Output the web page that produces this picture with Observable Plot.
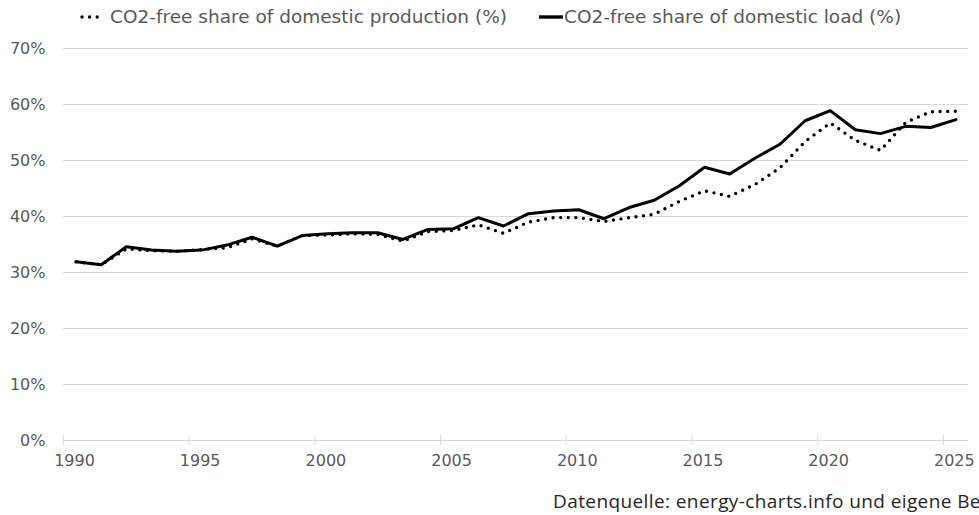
<!DOCTYPE html>
<html>
<head>
<meta charset="utf-8">
<script src="https://cdn.jsdelivr.net/npm/d3@7"></script>
<script src="https://cdn.jsdelivr.net/npm/@observablehq/plot@0.6"></script>
<style>
  html, body { margin: 0; padding: 0; background: #fff; }
  body { width: 979px; height: 515px; overflow: hidden; position: relative; }
  #legend { position: absolute; left: 0; top: 0; width: 979px; height: 36px; font-family: "DejaVu Sans", sans-serif; font-size: 18.5px; color: #595959; }
  #legend .item { position: absolute; top: 6px; display: flex; align-items: center; white-space: nowrap; }
  #chart { position: absolute; left: 0; top: 36px; }
  #caption { position: absolute; left: 553px; top: 488px; font-family: "Open Sans", sans-serif; font-size: 19px; letter-spacing: 0.4px; color: #262626; white-space: nowrap; }
</style>
</head>
<body>
<div id="legend"></div>
<div id="chart"></div>
<div id="caption"></div>
<script>
const years = [1990,1991,1992,1993,1994,1995,1996,1997,1998,1999,2000,2001,2002,2003,2004,2005,2006,2007,2008,2009,2010,2011,2012,2013,2014,2015,2016,2017,2018,2019,2020,2021,2022,2023,2024,2025];
const production = [31.9,31.4,34.2,33.9,33.8,34.1,34.4,36.0,34.7,36.6,36.7,36.9,36.8,35.6,37.3,37.5,38.5,37.0,39.0,39.8,39.8,39.1,39.8,40.4,42.7,44.6,43.6,45.7,48.7,53.4,56.7,53.6,51.8,56.8,58.7,58.8];
const load = [31.9,31.4,34.6,34.0,33.8,34.0,34.9,36.3,34.7,36.6,36.9,37.1,37.1,35.9,37.7,37.8,39.8,38.3,40.5,41.0,41.2,39.6,41.6,42.9,45.5,48.8,47.6,50.4,52.9,57.1,58.9,55.5,54.8,56.1,55.9,57.3];
const seriesNames = ["CO2-free share of domestic production (%)", "CO2-free share of domestic load (%)"];
const xTicks = [1990,1995,2000,2005,2010,2015,2020,2025];
const yTicks = [0,10,20,30,40,50,60,70];
const captionText = "Datenquelle: energy-charts.info und eigene Berechnungen";

const prodData = years.map((y, i) => ({year: y + 0.5, value: production[i]}));
const loadData = years.map((y, i) => ({year: y + 0.5, value: load[i]}));

const textColor = "#595959";
const gridColor = "#d9d9d9";

const plot = Plot.plot({
  width: 979,
  height: 454,
  marginTop: 12,
  marginBottom: 50,
  marginLeft: 63,
  marginRight: 11,
  style: {fontFamily: "DejaVu Sans, sans-serif", fontSize: "16px", color: textColor, background: "#fff"},
  x: {domain: [1990, 2026]},
  y: {domain: [0, 70]},
  marks: [
    Plot.ruleY(yTicks, {stroke: gridColor, strokeWidth: 1}),
    Plot.ruleX(xTicks, {y1: -0.9, y2: 0.9, stroke: gridColor, strokeWidth: 1}),
    Plot.axisY({ticks: yTicks, tickFormat: d => d + "%", tickSize: 0, tickPadding: 18, fontSize: 16, fill: textColor, label: null}),
    Plot.axisX({ticks: xTicks, tickFormat: d => String(d), tickSize: 0, tickPadding: 14, dx: 11, fontSize: 16, fill: textColor, label: null}),
    Plot.line(prodData, {x: "year", y: "value", stroke: "#000", strokeWidth: 3.4, strokeDasharray: "0 7.6", strokeLinecap: "round", strokeLinejoin: "round"}),
    Plot.line(loadData, {x: "year", y: "value", stroke: "#000", strokeWidth: 3, strokeLinejoin: "round"})
  ]
});
document.getElementById("chart").appendChild(plot);

const legend = document.getElementById("legend");
const items = [
  {left: 78, name: seriesNames[0], sample: '<svg width="26" height="10"><line x1="4" y1="5" x2="22" y2="5" stroke="#000" stroke-width="3.4" stroke-dasharray="0 7.6" stroke-linecap="round"/></svg>', gap: 6},
  {left: 538, name: seriesNames[1], sample: '<svg width="26" height="10"><line x1="1" y1="5" x2="25" y2="5" stroke="#000" stroke-width="3.4"/></svg>', gap: 0}
];
for (const it of items) {
  const d = document.createElement("div");
  d.className = "item";
  d.style.left = it.left + "px";
  d.innerHTML = it.sample + '<span style="margin-left:' + it.gap + 'px"></span>';
  d.querySelector("span").textContent = it.name;
  legend.appendChild(d);
}
document.getElementById("caption").textContent = captionText;
</script>
</body>
</html>
